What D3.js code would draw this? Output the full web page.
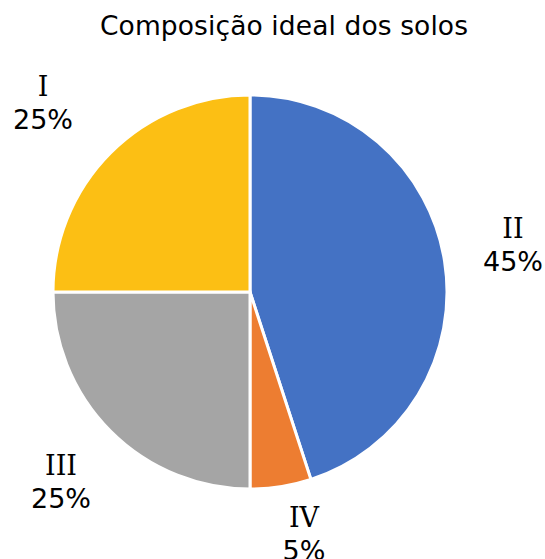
<!DOCTYPE html>
<html><head><meta charset="utf-8">
<script src="https://cdn.jsdelivr.net/npm/d3@7"></script>
<style>body{margin:0;background:#fff}</style>
</head><body>
<svg id="c" width="545" height="559"></svg>
<script>
const title = "Composição ideal dos solos";
const categories = ["II", "IV", "III", "I"];
const values = [45, 5, 25, 25];
const colors = ["#4472C4", "#ED7D31", "#A5A5A5", "#FCBF14"];
const labelPos = [[513, 238], [304, 527], [61, 475], [43, 96]];

const svg = d3.select("#c");
const cx = 250, cy = 292, r = 197;
svg.append("text").attr("x", 284).attr("y", 35).attr("text-anchor", "middle")
  .attr("font-family", "DejaVu Sans").attr("font-size", 26.5).attr("fill", "#000")
  .attr("textLength", 368).attr("lengthAdjust", "spacing").text(title);

const pie = d3.pie().sort(null).value(d => d.v);
const data = categories.map((c, i) => ({c, v: values[i], col: colors[i], lp: labelPos[i]}));
const arc = d3.arc().innerRadius(0).outerRadius(r);
const g = svg.append("g").attr("transform", `translate(${cx},${cy})`);
g.selectAll("path").data(pie(data)).join("path")
  .attr("d", arc).attr("fill", d => d.data.col)
  .attr("stroke", "#fff").attr("stroke-width", 3);

const total = d3.sum(values);
const lab = svg.append("g").attr("font-size", 27).attr("fill", "#000");
data.forEach(d => {
  lab.append("text").attr("x", d.lp[0]).attr("y", d.lp[1]).attr("text-anchor", "middle")
    .attr("font-family", "DejaVu Serif").text(d.c);
  lab.append("text").attr("x", d.lp[0]).attr("y", d.lp[1] + 33).attr("text-anchor", "middle")
    .attr("font-family", "DejaVu Sans").text(Math.round(d.v / total * 100) + "%");
});
</script>
</body></html>
